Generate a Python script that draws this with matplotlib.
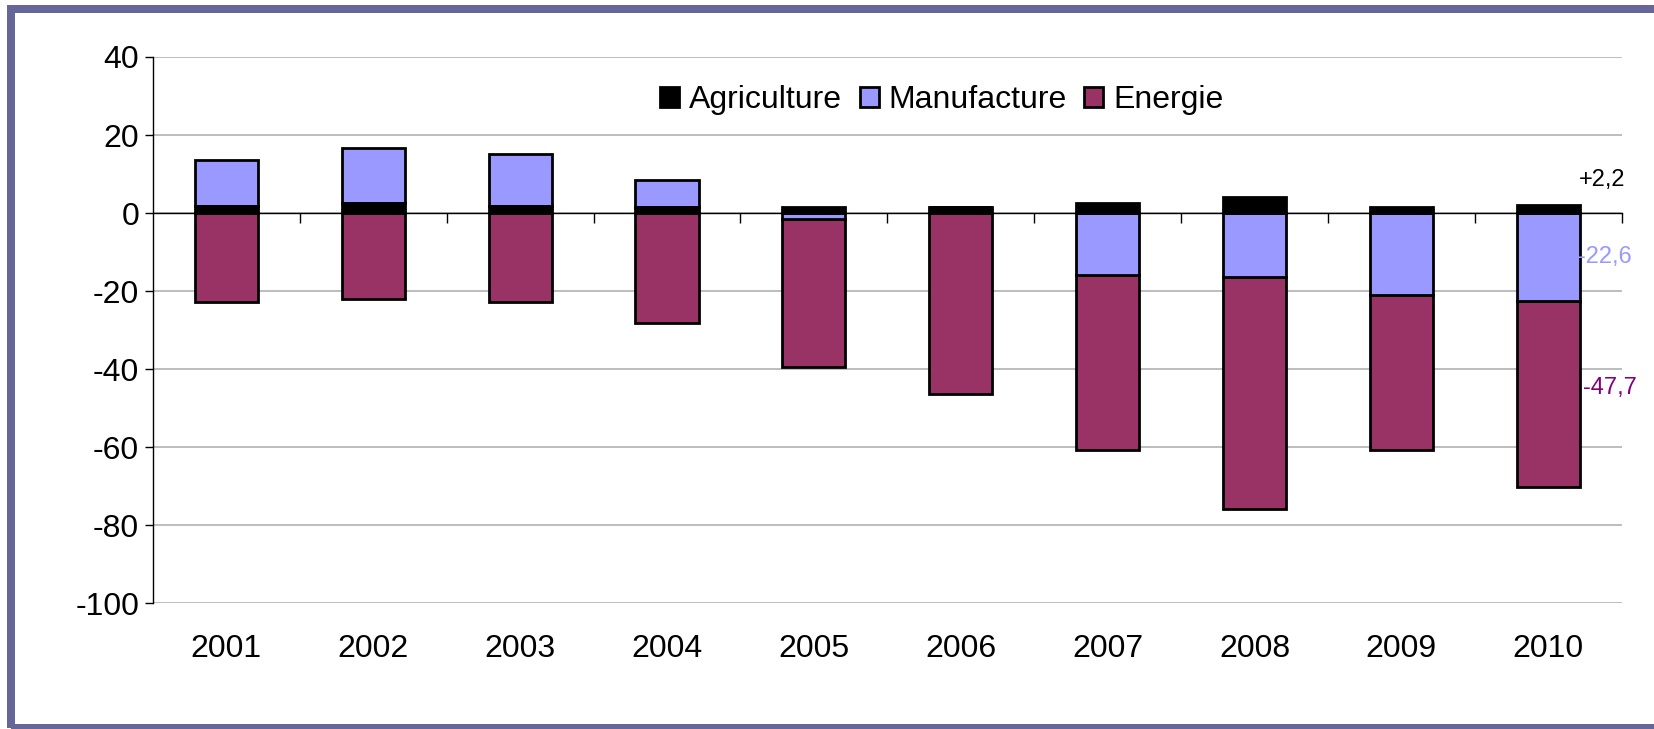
import numpy as np
import matplotlib
matplotlib.use("Agg")
import matplotlib.pyplot as plt
from matplotlib.patches import Rectangle

plt.rcParams['font.family'] = ['Liberation Sans', 'DejaVu Sans']
plt.rcParams['axes.unicode_minus'] = False

years = ['2001', '2002', '2003', '2004', '2005', '2006', '2007', '2008', '2009', '2010']
agriculture = [1.7, 2.5, 1.7, 1.6, 1.6, 1.6, 2.5, 4.0, 1.6, 2.2]
manufacture = [11.9, 14.2, 13.4, 6.8, -1.5, 0.0, -15.9, -16.5, -21.1, -22.6]
energie = [-22.8, -21.9, -22.8, -28.2, -38.0, -46.3, -44.9, -59.3, -39.5, -47.7]
label_texts = ['+2,2', '-22,6', '-47,7']

c_agri = '#000000'
c_manu = '#9999FF'
c_ener = '#993366'
c_border = '#666699'

W, H = 1654, 729
fig = plt.figure(figsize=(W / 100, H / 100), dpi=100)
ax = fig.add_axes([153 / W, 1 - 603.3 / H, (1621.7 - 153) / W, (603.3 - 57) / H])

x = np.arange(len(years))
agri = np.array(agriculture)
manu = np.array(manufacture)
ener = np.array(energie)
bw = 0.43

# stacking: positives above zero, negatives below
manu_bottom = np.where(manu >= 0, agri, 0)
ener_bottom = np.where(manu < 0, manu, 0)

ax.bar(x, ener, bw, bottom=ener_bottom, color=c_ener, edgecolor='black', linewidth=2, zorder=3, label='Energie')
ax.bar(x, manu, bw, bottom=manu_bottom, color=c_manu, edgecolor='black', linewidth=2, zorder=3, label='Manufacture')
ax.bar(x, agri, bw, color=c_agri, edgecolor='black', linewidth=2, zorder=3, label='Agriculture')

ax.set_xlim(-0.5, len(years) - 0.5)
ax.set_ylim(-100, 40)
ax.set_yticks(np.arange(-100, 41, 20))
ax.yaxis.grid(True, color='#b8b8b8', linewidth=1.3, zorder=0)
ax.tick_params(axis='y', direction='out', length=6, width=1, labelsize=23, pad=4)

for s in ['top', 'right']:
    ax.spines[s].set_visible(False)
ax.spines['left'].set_linewidth(1)
ax.spines['bottom'].set_position(('data', 0))
ax.spines['bottom'].set_linewidth(1)
ax.spines['bottom'].set_zorder(4)

# category boundary ticks on the zero line
ax.set_xticks(x)
ax.set_xticklabels([])
ax.tick_params(axis='x', which='major', length=0)
ax.set_xticks(np.arange(0.5, len(years), 1), minor=True)
ax.tick_params(axis='x', which='minor', direction='out', length=7, width=1)

# year labels at the bottom
sec = ax.secondary_xaxis(0.0)
sec.set_xticks(x)
sec.set_xticklabels(years, fontsize=23)
sec.tick_params(length=0, pad=22)
sec.spines['bottom'].set_visible(False)

# values for 2010
i = len(years) - 1
ax.text(i + 0.37, agri[i] + 6.3, label_texts[0], color='black', fontsize=17, ha='center', va='center')
ax.text(i + 0.385, manu[i] / 2, label_texts[1], color=c_manu, fontsize=17, ha='center', va='center')
ax.text(i + 0.42, manu[i] + ener[i] / 2 + 1.5, label_texts[2], color='#800080', fontsize=17, ha='center', va='center')

h, l = ax.get_legend_handles_labels()
ax.legend(h[::-1], l[::-1], ncol=3, loc='center', bbox_to_anchor=(0.537, 0.921),
          frameon=False, fontsize=23, handlelength=0.6, handleheight=0.6,
          handletextpad=0.3, columnspacing=0.55)

# outer frame
fig.patches.append(Rectangle((11 / W, 1 / H), 1.02, 1 - 10 / H, transform=fig.transFigure,
                             fill=False, edgecolor=c_border, linewidth=8 * 0.72, zorder=10))

fig.savefig('out.png', dpi=100)
